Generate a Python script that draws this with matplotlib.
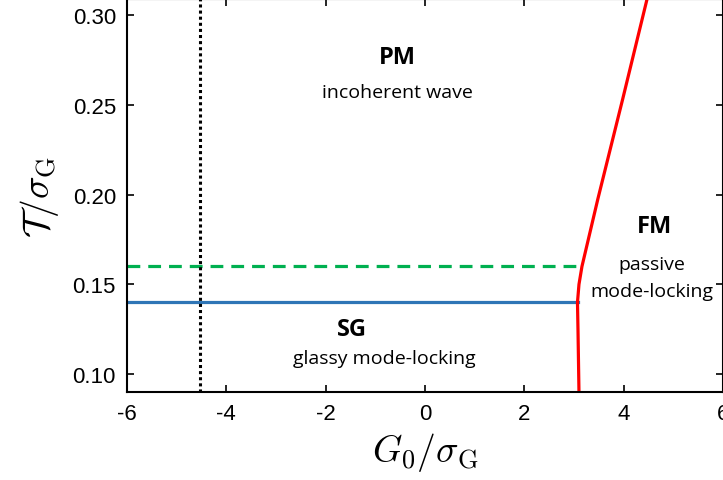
import numpy as np
import matplotlib
matplotlib.use('Agg')
from matplotlib import pyplot as plt

plt.rcParams['mathtext.fontset'] = 'cm'
plt.rcParams['font.family'] = ['Liberation Sans', 'DejaVu Sans']

# phase boundaries
red_x = [3.10, 3.08, 3.07, 3.10, 3.16, 3.48, 3.98, 4.47]
red_y = [0.090, 0.125, 0.140, 0.150, 0.160, 0.1976, 0.2533, 0.309]
sg_x = [-6.0, 3.08]
sg_y = [0.14, 0.14]
green_x = [-6.0, 3.18]
green_y = [0.16, 0.16]
dotted_x = -4.53

xticks = [-6, -4, -2, 0, 2, 4, 6]
yticks = [0.10, 0.15, 0.20, 0.25, 0.30]

fig = plt.figure(figsize=(7.23, 4.81), dpi=100)
ax = fig.add_axes([0.1757, 0.183, 0.8243, 0.8165])

ax.plot(sg_x, sg_y, color='#2e75b6', lw=2.3)
ax.plot(green_x, green_y, color='#00b050', lw=2.3, ls=(0, (4, 2.5)))
ax.axvline(dotted_x, color='black', lw=2.2, ls=(0, (1, 1)))
ax.plot(red_x, red_y, color='#ff0000', lw=2.3)

tfam = ['Open Sans', 'DejaVu Sans']
ax.text(-0.56, 0.2766, 'PM', fontsize=17, fontweight='bold', ha='center', va='center', family=tfam)
ax.text(-0.56, 0.257, 'incoherent wave', fontsize=14, ha='center', va='center', family=tfam)
ax.text(4.63, 0.1826, 'FM', fontsize=17, fontweight='bold', ha='center', va='center', family=tfam)
ax.text(4.57, 0.1615, 'passive', fontsize=14, ha='center', va='center', family=tfam)
ax.text(4.57, 0.1465, 'mode-locking', fontsize=14, ha='center', va='center', family=tfam)
ax.text(-1.47, 0.1253, 'SG', fontsize=17, fontweight='bold', ha='center', va='center', family=tfam)
ax.text(-0.81, 0.109, 'glassy mode-locking', fontsize=14, ha='center', va='center', family=tfam)

ax.set_xlim(-6, 6)
ax.set_ylim(0.09, 0.309)
ax.set_xticks(xticks)
ax.set_xticklabels([str(t) for t in xticks])
ax.set_yticks(yticks)
ax.set_yticklabels(['%.2f' % t for t in yticks])
ax.tick_params(direction='in', top=True, right=True, length=5, width=1.2, labelsize=16, pad=8)
for s in ax.spines.values():
    s.set_linewidth(1.5)

ax.set_xlabel(r'$G_0/\sigma_{\rm G}$', fontsize=27, labelpad=4)
ax.set_ylabel(r'$\mathcal{T}/\sigma_{\rm G}$', fontsize=27, labelpad=8)

fig.savefig('out.png', dpi=100)
